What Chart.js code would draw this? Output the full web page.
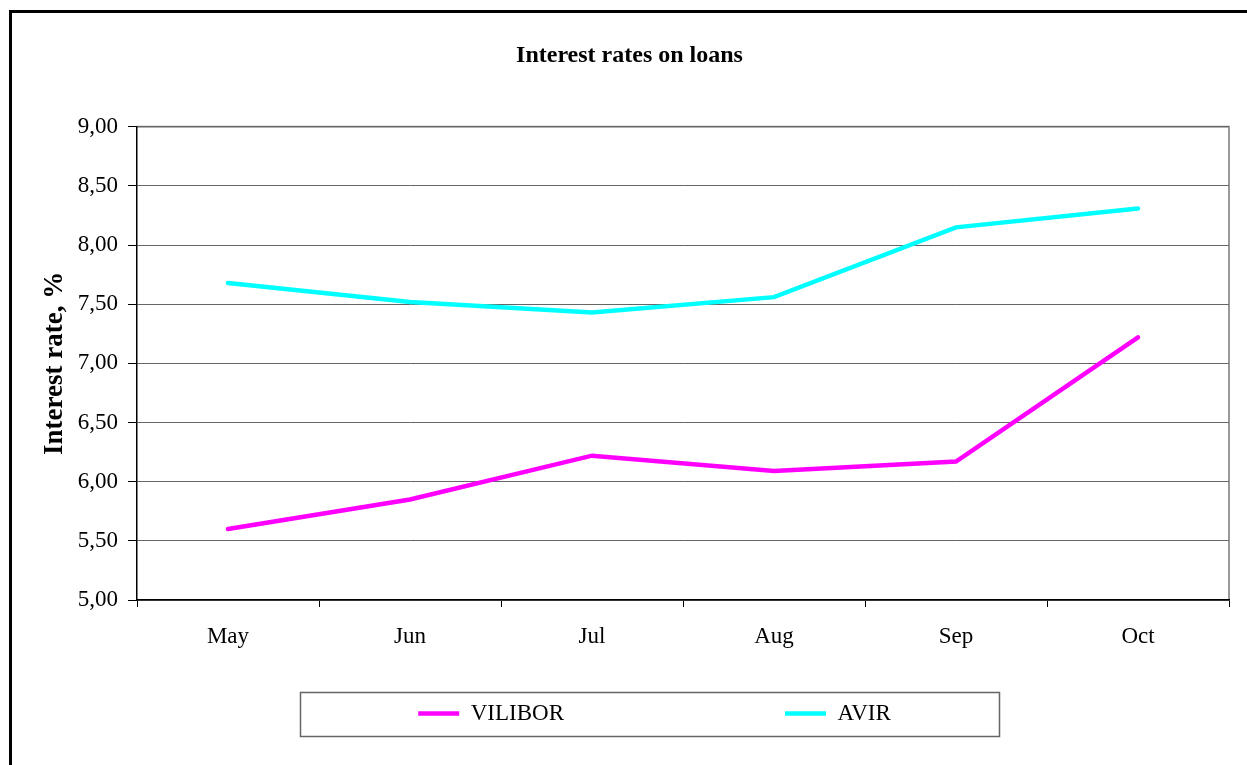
<!DOCTYPE html>
<html>
<head>
<meta charset="utf-8">
<script src="https://cdn.jsdelivr.net/npm/chart.js@4/dist/chart.umd.min.js"></script>
<style>
    html, body { margin: 0; padding: 0; background: #fff; }
    #wrap { width: 1247px; height: 765px; }
</style>
</head>
<body>
<div id="wrap"><canvas id="ratesChart" width="1247" height="765"></canvas></div>
<script>
const months = ['May', 'Jun', 'Jul', 'Aug', 'Sep', 'Oct'];
const vilibor = [5.60, 5.85, 6.22, 6.09, 6.17, 7.22];
const avir = [7.68, 7.52, 7.43, 7.56, 8.15, 8.31];
const yTicks = [5.0, 5.5, 6.0, 6.5, 7.0, 7.5, 8.0, 8.5, 9.0];

const serif = '"Liberation Serif", "Times New Roman", serif';
const legendGap = 221;   // horizontal gap between the two legend entries
const legendHeight = 43;

// frame, plot border and legend box, like the Excel original
const decorations = {
    id: 'decorations',
    beforeLayout(chart) {
        // the legend padding is used both ways; keep the big gap horizontal only
        const lg = chart.legend;
        if (lg && !lg._fitPatched) {
            const fit = lg.fit.bind(lg);
            lg.fit = function () {
                fit();
                this.height = legendHeight;
            };
            lg._fitPatched = true;
        }
    },
    afterLayout(chart) {
        const lg = chart.legend;
        lg.left += 25;
        lg.right += 25;
        lg.top -= legendGap - 10;
    },
    beforeDraw(chart) {
        const ctx = chart.ctx;
        const a = chart.chartArea;
        ctx.save();
        ctx.fillStyle = '#000';
        ctx.fillRect(9, 10, 3, 765);
        ctx.fillRect(9, 10, 1247, 3);
        ctx.strokeStyle = '#999';
        ctx.lineWidth = 2;
        ctx.beginPath();
        ctx.moveTo(a.left, a.top);
        ctx.lineTo(a.right, a.top);
        ctx.lineTo(a.right, a.bottom);
        ctx.stroke();
        ctx.restore();
    },
    afterDraw(chart) {
        const ctx = chart.ctx;
        ctx.save();
        ctx.strokeStyle = '#666';
        ctx.lineWidth = 1.5;
        ctx.strokeRect(300.5, 692.5, 699, 44);
        ctx.restore();
    }
};

new Chart(document.getElementById('ratesChart'), {
    type: 'line',
    data: {
        labels: months,
        datasets: [{
            label: 'VILIBOR',
            data: vilibor,
            borderColor: '#ff00ff',
            backgroundColor: '#ff00ff',
            borderWidth: 4.5,
            borderCapStyle: 'round',
            pointRadius: 0,
            tension: 0
        }, {
            label: 'AVIR',
            data: avir,
            borderColor: '#00ffff',
            backgroundColor: '#00ffff',
            borderWidth: 4.5,
            borderCapStyle: 'round',
            pointRadius: 0,
            tension: 0
        }]
    },
    options: {
        responsive: false,
        animation: false,
        layout: {
            padding: {left: 30, right: 18, top: 10, bottom: 30}
        },
        plugins: {
            title: {
                display: true,
                text: 'Interest rates on loans',
                color: '#000',
                font: {family: serif, size: 24, weight: 'bold'},
                padding: {top: 31, bottom: 57}
            },
            legend: {
                position: 'bottom',
                labels: {
                    color: '#000',
                    font: {family: serif, size: 23},
                    usePointStyle: true,
                    pointStyle: 'line',
                    pointStyleWidth: 41,
                    padding: legendGap
                }
            },
            tooltip: {enabled: false}
        },
        scales: {
            x: {
                offset: true,
                afterFit: function (scale) {
                    scale.height = 92;
                },
                grid: {
                    offset: true,
                    drawOnChartArea: false,
                    drawTicks: true,
                    tickLength: 7,
                    tickColor: '#000'
                },
                border: {color: '#000', width: 1.5},
                ticks: {
                    color: '#000',
                    font: {family: serif, size: 23},
                    padding: 16
                }
            },
            y: {
                min: 5,
                max: 9,
                afterFit: function (scale) {
                    scale.width = 107;
                },
                afterBuildTicks: function (scale) {
                    scale.ticks = yTicks.map(v => ({value: v}));
                },
                grid: {
                    color: '#666',
                    tickLength: 9,
                    tickColor: '#000'
                },
                border: {color: '#000', width: 1.5},
                ticks: {
                    color: '#000',
                    font: {family: serif, size: 23},
                    padding: 10,
                    callback: function (value) {
                        return value.toFixed(2).replace('.', ',');
                    }
                },
                title: {
                    display: true,
                    text: 'Interest rate, %',
                    color: '#000',
                    font: {family: serif, size: 27, weight: 'bold'},
                    padding: {top: 9, bottom: 0}
                }
            }
        }
    },
    plugins: [decorations]
});
</script>
</body>
</html>
